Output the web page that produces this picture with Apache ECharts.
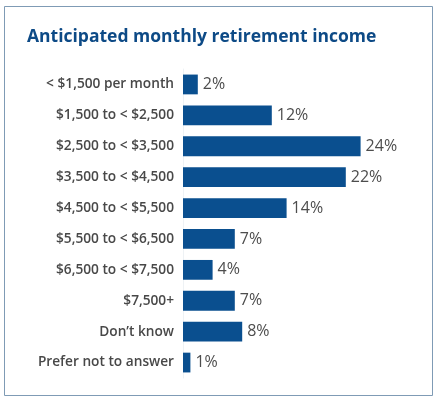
<!DOCTYPE html>
<html>
<head>
<meta charset="utf-8">
<script src="https://cdn.jsdelivr.net/npm/echarts@6/dist/echarts.min.js"></script>
<style>
  html, body { margin: 0; padding: 0; background: #fff; }
  #chart { width: 440px; height: 402px; }
</style>
</head>
<body>
<div id="chart"></div>
<script>
const titleText = 'Anticipated monthly retirement income'
const categories = [
  '< $1,500 per month',
  '$1,500 to < $2,500',
  '$2,500 to < $3,500',
  '$3,500 to < $4,500',
  '$4,500 to < $5,500',
  '$5,500 to < $6,500',
  '$6,500 to < $7,500',
  '$7,500+',
  'Don\u2019t know',
  'Prefer not to answer'
]
const shares = [2, 12, 24, 22, 14, 7, 4, 7, 8, 1]

const chart = echarts.init(document.getElementById('chart'), null, { renderer: 'canvas' })

chart.setOption({
  animation: false,
  backgroundColor: '#fff',
  title: {
    text: titleText,
    left: 22,
    top: 23,
    textStyle: {
      fontFamily: 'Open Sans',
      fontWeight: 'bold',
      fontSize: 17.5,
      color: '#0d4a86'
    }
  },
  graphic: [{
    type: 'rect',
    shape: { x: 4.5, y: 6.5, width: 428, height: 389 },
    style: { fill: 'none', stroke: '#7f9bb5', lineWidth: 1 },
    silent: true
  }],
  grid: { left: 183, right: 35, top: 69, bottom: 24 },
  xAxis: {
    type: 'value',
    min: 0,
    max: 30,
    show: false
  },
  yAxis: {
    type: 'category',
    data: categories,
    inverse: true,
    axisLine: { show: true, lineStyle: { color: '#eef2f5', width: 1 } },
    axisTick: { show: false },
    axisLabel: {
      margin: 9,
      fontFamily: 'Open Sans',
      fontWeight: 600,
      fontSize: 13.7,
      color: '#484848'
    }
  },
  series: [{
    type: 'bar',
    data: shares,
    barCategoryGap: '36%',
    itemStyle: { color: '#0a4f8f' },
    label: {
      show: true,
      position: 'right',
      distance: 5,
      formatter: '{c}%',
      fontFamily: 'Open Sans',
      fontWeight: 500,
      fontSize: 16,
      color: '#4d4d4d'
    }
  }]
})
</script>
</body>
</html>
